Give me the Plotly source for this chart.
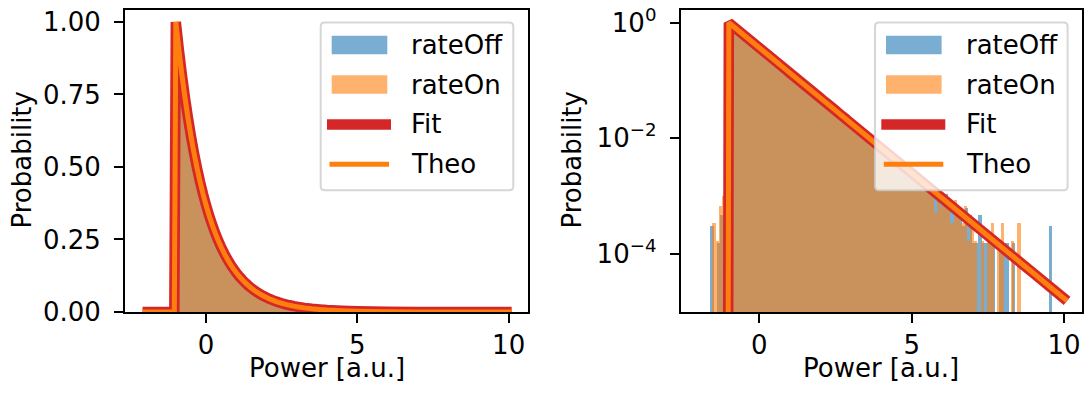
import numpy as np
import plotly.graph_objects as go

W, H = 1086, 397

# ---------------- data ----------------
BIN_WIDTH = 0.11
OFF_FIRST_EDGE = -1.62
ON_FIRST_EDGE = -1.55

RATE_OFF = [
    3.1e-4, 0, 1.55e-4, 4.65e-4, 1.2e-3, 0.36, 0.909, 0.815, 0.730, 0.654,
    0.586, 0.525, 0.470, 0.421, 0.377, 0.338, 0.303, 0.271, 0.243, 0.218,
    0.195, 0.175, 0.157, 0.140, 0.126, 0.113, 0.101, 0.0903, 0.0809, 0.0725,
    0.0649, 0.0581, 0.0521, 0.0467, 0.0418, 0.0374, 0.0335, 0.0300, 0.0269, 0.0241,
    0.0216, 0.0194, 0.0173, 0.0155, 0.0139, 0.0125, 0.0112, 0.0100, 0.00896, 0.00803,
    0.00719, 0.00644, 0.00577, 0.00517, 0.00463, 0.00415, 0.00372, 0.00333, 0.00298, 0.00267,
    0.00239, 0.00214, 0.00192, 0.00172, 0.00154, 1.40e-3, 1.09e-3, 1.24e-3, 9.3e-4, 7.8e-4,
    1.09e-3, 6.2e-4, 7.8e-4, 4.65e-4, 6.2e-4, 3.1e-4, 6.2e-4, 4.65e-4, 1.55e-4, 1.55e-4,
    4.65e-4, 1.55e-4, 1.55e-4, 1.55e-4, 1.55e-4, 0, 1.55e-4, 1.55e-4, 1.55e-4, 0,
    1.55e-4, 0, 0, 0, 0, 0, 0, 0, 0, 0,
    0, 3.1e-4,
]

RATE_ON = [
    3.4e-4, 1.7e-4, 6.8e-4, 1.0e-3, 3.4e-3, 0.946, 0.848, 0.759, 0.680, 0.609,
    0.546, 0.489, 0.438, 0.392, 0.352, 0.315, 0.282, 0.253, 0.226, 0.203,
    0.182, 0.163, 0.146, 0.131, 0.117, 0.105, 0.0939, 0.0841, 0.0754, 0.0675,
    0.0605, 0.0542, 0.0485, 0.0435, 0.0390, 0.0349, 0.0313, 0.0280, 0.0251, 0.0225,
    0.0201, 0.0180, 0.0162, 0.0145, 0.0130, 0.0116, 0.0104, 0.00932, 0.00835, 0.00748,
    0.00670, 0.00600, 0.00538, 0.00482, 0.00431, 0.00386, 0.00346, 0.00310, 0.00278, 0.00249,
    0.00223, 0.00200, 0.00179, 0.00160, 1.36e-3, 1.19e-3, 5.1e-4, 1.02e-3, 6.8e-4, 8.5e-4,
    6.8e-4, 3.4e-4, 8.5e-4, 5.1e-4, 3.4e-4, 6.8e-4, 1.7e-4, 3.4e-4, 1.7e-4, 0,
    1.7e-4, 0, 1.7e-4, 3.4e-4, 0, 1.7e-4, 3.4e-4, 0, 0, 1.7e-4,
    0, 3.4e-4,
]

LINE_X = [-2.1, -1.05,
          -1.0, -0.9, -0.8, -0.7, -0.6, -0.5, -0.4, -0.3, -0.2, -0.1,
          0.0, 0.1, 0.2, 0.3, 0.4, 0.5, 0.6, 0.7, 0.8, 0.9,
          1.0, 1.1, 1.2, 1.3, 1.4, 1.5, 1.6, 1.7, 1.8, 1.9,
          2.0, 2.1, 2.2, 2.3, 2.4, 2.5, 2.6, 2.7, 2.8, 2.9,
          3.0, 3.25, 3.5, 3.75, 4.0, 4.5, 5.0, 6.0, 7.0, 8.0, 9.0, 10.1]
FIT_Y = [0, 0,
         1.0, 0.9048, 0.8187, 0.7408, 0.6703, 0.6065, 0.5488, 0.4966, 0.4493, 0.4066,
         0.3679, 0.3329, 0.3012, 0.2725, 0.2466, 0.2231, 0.2019, 0.1827, 0.1653, 0.1496,
         0.1353, 0.1225, 0.1108, 0.1003, 0.0907, 0.0821, 0.0743, 0.0672, 0.0608, 0.0550,
         0.0498, 0.0450, 0.0408, 0.0369, 0.0334, 0.0302, 0.0273, 0.0247, 0.0224, 0.0202,
         0.0183, 0.01426, 0.01111, 0.00865, 0.00674, 0.00409, 0.00248, 9.12e-4, 3.35e-4,
         1.23e-4, 4.54e-5, 1.51e-5]
THEO_Y = [0, 0,
          1.0, 0.9048, 0.8187, 0.7408, 0.6703, 0.6065, 0.5488, 0.4966, 0.4493, 0.4066,
          0.3679, 0.3329, 0.3012, 0.2725, 0.2466, 0.2231, 0.2019, 0.1827, 0.1653, 0.1496,
          0.1353, 0.1225, 0.1108, 0.1003, 0.0907, 0.0821, 0.0743, 0.0672, 0.0608, 0.0550,
          0.0498, 0.0450, 0.0408, 0.0369, 0.0334, 0.0302, 0.0273, 0.0247, 0.0224, 0.0202,
          0.0183, 0.01426, 0.01111, 0.00865, 0.00674, 0.00409, 0.00248, 9.12e-4, 3.35e-4,
          1.23e-4, 4.54e-5, 1.51e-5]

LABELS = ["rateOff", "rateOn", "Fit", "Theo"]
X_TICKS = [0, 5, 10]
LIN_TICKS = [0, 0.25, 0.5, 0.75, 1.0]
LOG_TICKS = [1, 1e-2, 1e-4]
LOG_TICKTEXT = ["10<sup>0</sup>", "10<sup>\u22122</sup>", "10<sup>\u22124</sup>"]

# ---------------- style ----------------
FONT = "DejaVu Sans"
FS = 26
BLUE = "rgba(31,119,180,0.6)"
ORANGE_A = "rgba(255,127,14,0.6)"
RED = "#d62728"
ORANGE = "#ff7f0e"


def centers(first_edge, n):
    return first_edge + BIN_WIDTH * (np.arange(n) + 0.5)


off_x = centers(OFF_FIRST_EDGE, len(RATE_OFF))
on_x = centers(ON_FIRST_EDGE, len(RATE_ON))
off_y = np.array(RATE_OFF, dtype=float)
on_y = np.array(RATE_ON, dtype=float)
lx = np.array(LINE_X)
fit_y = np.array(FIT_Y)
theo_y = np.array(THEO_Y)

fig = go.Figure()

for (xa, ya, log) in [("x", "y", False), ("x2", "y2", True)]:
    for xs, ys, col in [(off_x, off_y, BLUE), (on_x, on_y, ORANGE_A)]:
        m = ys > 0
        fig.add_trace(go.Bar(x=xs[m], y=ys[m], width=BIN_WIDTH, marker=dict(color=col, line=dict(width=0)),
                             xaxis=xa, yaxis=ya, showlegend=False))
    fy = np.where(fit_y > 0, fit_y, 1e-12) if log else fit_y
    ty = np.where(theo_y > 0, theo_y, 1e-12) if log else theo_y
    fig.add_trace(go.Scatter(x=lx, y=fy, mode="lines", line=dict(color=RED, width=10.5, simplify=False),
                             xaxis=xa, yaxis=ya, showlegend=False))
    fig.add_trace(go.Scatter(x=lx, y=ty, mode="lines", line=dict(color=ORANGE, width=5, simplify=False),
                             xaxis=xa, yaxis=ya, showlegend=False))

YDOM = [1 - 312 / H, 1 - 9.5 / H]
axis_common = dict(showline=True, linecolor="black", linewidth=2, mirror=True, ticks="outside",
                   ticklen=9, tickwidth=2, tickcolor="black", showgrid=False, zeroline=False,
                   automargin=False,
                   tickfont=dict(family=FONT, size=FS, color="black"))

fig.update_layout(
    template="none",
    width=W, height=H, margin=dict(l=0, r=0, t=0, b=0, pad=0), autosize=False,
    paper_bgcolor="white", plot_bgcolor="white", barmode="overlay", bargap=0,
    showlegend=False,
    xaxis=dict(domain=[125 / W, 528 / W], range=[-2.68, 10.64], tickvals=X_TICKS, anchor="y",
               ticklabelstandoff=0, **axis_common),
    yaxis=dict(domain=YDOM, range=[0, 1.043], tickvals=LIN_TICKS,
               ticktext=[f"{v:.2f}" for v in LIN_TICKS], anchor="x", ticklabelstandoff=8, **axis_common),
    xaxis2=dict(domain=[680.7 / W, 1082 / W], range=[-2.58, 10.59], tickvals=X_TICKS, anchor="y2",
                ticklabelstandoff=0, **axis_common),
    yaxis2=dict(domain=YDOM, type="log", range=[-5.014, 0.229], tickvals=LOG_TICKS,
                ticktext=LOG_TICKTEXT, anchor="x2", ticklabelstandoff=8, **axis_common),
)


def P(x, y):
    return f"{x / W:.6f},{1 - y / H:.6f}"


shapes = []
annotations = []
for dx in (0.0, 554.3):
    x0, x1, y0, y1, r = 320.7 + dx, 513.3 + dx, 22.5, 190.3, 4
    path = (f"M{P(x0 + r, y0)} L{P(x1 - r, y0)} Q{P(x1, y0)} {P(x1, y0 + r)} "
            f"L{P(x1, y1 - r)} Q{P(x1, y1)} {P(x1 - r, y1)} L{P(x0 + r, y1)} "
            f"Q{P(x0, y1)} {P(x0, y1 - r)} L{P(x0, y0 + r)} Q{P(x0, y0)} {P(x0 + r, y0)} Z")
    shapes.append(dict(type="path", path=path, xref="paper", yref="paper", layer="above",
                       fillcolor="rgba(255,255,255,0.8)", line=dict(color="rgba(204,204,204,0.8)", width=2)))
    rows = [45.0, 84.5, 124.5, 164.2]
    for yc, col in [(rows[0], BLUE), (rows[1], ORANGE_A)]:
        shapes.append(dict(type="rect", xref="paper", yref="paper", layer="above",
                           x0=(331.7 + dx) / W, x1=(387.3 + dx) / W,
                           y0=1 - (yc + 9.3) / H, y1=1 - (yc - 9.3) / H,
                           fillcolor=col, line=dict(width=0)))
    shapes.append(dict(type="line", xref="paper", yref="paper", layer="above",
                       x0=(327 + dx) / W, x1=(391 + dx) / W, y0=1 - rows[2] / H, y1=1 - rows[2] / H,
                       line=dict(color=RED, width=10.5)))
    shapes.append(dict(type="line", xref="paper", yref="paper", layer="above",
                       x0=(329.5 + dx) / W, x1=(389 + dx) / W, y0=1 - rows[3] / H, y1=1 - rows[3] / H,
                       line=dict(color=ORANGE, width=5)))
    for lab, yc in zip(LABELS, rows):
        annotations.append(dict(text=lab, x=(409.3 + dx) / W, y=1 - yc / H, xref="paper", yref="paper",
                                xanchor="left", yanchor="middle", showarrow=False,
                                font=dict(family=FONT, size=FS, color="black")))

# axis titles
for xc in ((125 + 528) / 2, (680.7 + 1082) / 2):
    annotations.append(dict(text="Power [a.u.]", x=xc / W, y=1 - 368 / H, xref="paper", yref="paper",
                            xanchor="center", yanchor="middle", showarrow=False,
                            font=dict(family=FONT, size=FS, color="black")))
for xc in (21.5, 571.5):
    annotations.append(dict(text="Probability", x=xc / W, y=1 - 160 / H, xref="paper", yref="paper",
                            xanchor="center", yanchor="middle", showarrow=False, textangle=-90,
                            font=dict(family=FONT, size=FS, color="black")))

fig.update_layout(shapes=shapes, annotations=annotations)
fig.write_html("out.html")
